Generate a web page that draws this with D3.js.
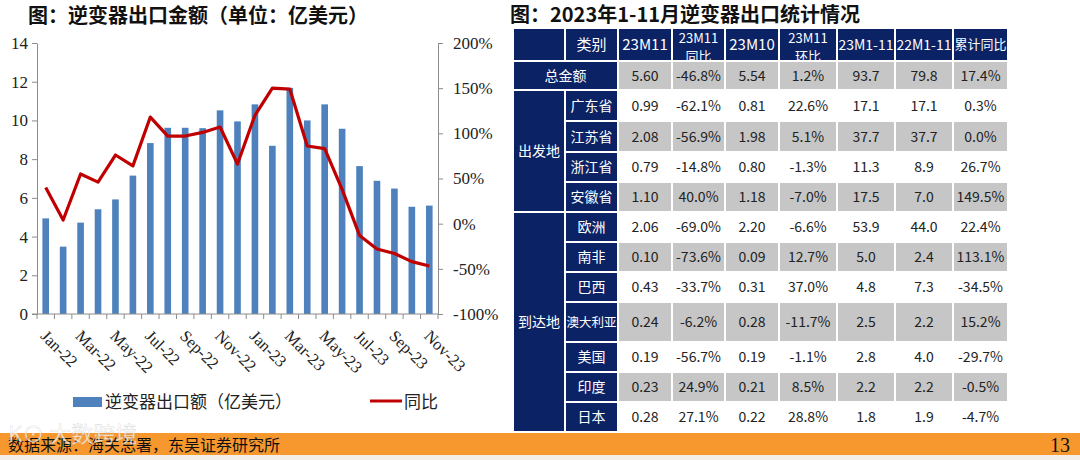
<!DOCTYPE html>
<html><head><meta charset="utf-8">
<script src="https://cdn.jsdelivr.net/npm/d3@7"></script>
<style>
html,body{margin:0;padding:0;background:#fff;}
svg{display:block;}
</style></head>
<body>
<svg id="c" width="1080" height="460"></svg>
<script>
// ---------------- DATA ----------------
const months = ["Jan-22","Feb-22","Mar-22","Apr-22","May-22","Jun-22","Jul-22","Aug-22","Sep-22","Oct-22","Nov-22","Dec-22",
                "Jan-23","Feb-23","Mar-23","Apr-23","May-23","Jun-23","Jul-23","Aug-23","Sep-23","Oct-23","Nov-23"];
const exportValue = [4.94,3.48,4.72,5.41,5.92,7.15,8.83,9.62,9.62,9.60,10.52,9.95,10.83,8.69,11.68,10.0,10.83,9.57,7.64,6.88,6.48,5.54,5.60];
const yoyPct = [40,4,55,46,76,64,118,97,97,101,107,66,120,150,149,86,83,38,-13,-28,-33,-42,-46.8];
const leftTicks = [0,2,4,6,8,10,12,14];
const rightTicks = [-100,-50,0,50,100,150,200];

const tableHeader = ["","类别","23M11","23M11\n同比","23M10","23M11\n环比","23M1-11","22M1-11","累计同比"];
const groupLabels = ["出发地","到达地"];
const rowNames = ["总金额","广东省","江苏省","浙江省","安徽省","欧洲","南非","巴西","澳大利亚","美国","印度","日本"];
const rowGroup = [null,"出发地","出发地","出发地","出发地","到达地","到达地","到达地","到达地","到达地","到达地","到达地"];
const m11 =   ["5.60","0.99","2.08","0.79","1.10","2.06","0.10","0.43","0.24","0.19","0.23","0.28"];
const m11Yoy =["-46.8%","-62.1%","-56.9%","-14.8%","40.0%","-69.0%","-73.6%","-33.7%","-6.2%","-56.7%","24.9%","27.1%"];
const m10 =   ["5.54","0.81","1.98","0.80","1.18","2.20","0.09","0.31","0.28","0.19","0.21","0.22"];
const m11Mom =["1.2%","22.6%","5.1%","-1.3%","-7.0%","-6.6%","12.7%","37.0%","-11.7%","-1.1%","8.5%","28.8%"];
const ytd23 = ["93.7","17.1","37.7","11.3","17.5","53.9","5.0","4.8","2.5","2.8","2.2","1.8"];
const ytd22 = ["79.8","17.1","37.7","8.9","7.0","44.0","2.4","7.3","2.2","4.0","2.2","1.9"];
const ytdYoy =["17.4%","0.3%","0.0%","26.7%","149.5%","22.4%","113.1%","-34.5%","15.2%","-29.7%","-0.5%","-4.7%"];

// ---------------- STYLE / LAYOUT ----------------
const CJK = "'Noto Sans CJK SC','Noto Sans',sans-serif";
const SERIF = "'Liberation Serif','Times New Roman',serif";
const BAR = "#4F81BD", LINE = "#C00000", NAVY = "#0B2265", GRAY = "#C6C6C6", AXIS = "#8C8C8C";

const svg = d3.select("#c");

// ---- left chart ----
const plot = {l:37, r:438, t:43, b:314};
const x = d3.scaleBand().domain(months).range([plot.l, plot.r]).paddingInner(0.62).paddingOuter(0.31);
const yL = d3.scaleLinear().domain([0,14]).range([plot.b, plot.t]);
const yR = d3.scaleLinear().domain([-100,200]).range([plot.b, plot.t]);

svg.append("text").attr("x",28).attr("y",23).attr("font-family",CJK).attr("font-weight","bold")
  .attr("font-size",20).attr("fill","#111").text("图：逆变器出口金额（单位：亿美元）");

svg.append("g").selectAll("rect").data(months).join("rect")
  .attr("x", d=>x(d)).attr("width", x.bandwidth())
  .attr("y", (d,i)=>yL(exportValue[i])).attr("height",(d,i)=>plot.b - yL(exportValue[i]))
  .attr("fill", BAR);

// left axis
const gl = svg.append("g").attr("transform",`translate(${plot.l},0)`)
  .call(d3.axisLeft(yL).tickValues(leftTicks).tickSize(5).tickSizeOuter(0).tickPadding(4));
gl.select(".domain").attr("stroke",AXIS);
gl.selectAll("line").attr("stroke",AXIS);
gl.selectAll("text").attr("font-family",SERIF).attr("font-size",17).attr("fill","#222");

// right axis
const gr = svg.append("g").attr("transform",`translate(${plot.r},0)`)
  .call(d3.axisRight(yR).tickValues(rightTicks).tickFormat(d=>d+"%").tickSize(5).tickSizeOuter(0).tickPadding(10));
gr.select(".domain").attr("stroke",AXIS);
gr.selectAll("line").attr("stroke",AXIS);
gr.selectAll("text").attr("font-family",SERIF).attr("font-size",17).attr("fill","#222");

// bottom axis
const step = x.step();
svg.append("line").attr("x1",plot.l-5).attr("x2",plot.r).attr("y1",plot.b).attr("y2",plot.b).attr("stroke",AXIS);
svg.append("g").selectAll("line").data(d3.range(months.length+1)).join("line")
  .attr("x1", i=>plot.l + i*step).attr("x2", i=>plot.l + i*step)
  .attr("y1", plot.b).attr("y2", plot.b+5).attr("stroke",AXIS);
svg.append("g").selectAll("text").data(months.filter((d,i)=>i%2===0)).join("text")
  .attr("transform", d=>`translate(${x(d)+x.bandwidth()/2-2},${plot.b+19}) rotate(45)`)
  .attr("font-family",SERIF).attr("font-size",16.5).attr("fill","#222")
  .attr("dy","0.35em").text(d=>d);

// line
const line = d3.line().x((d,i)=>x(months[i])+x.bandwidth()/2).y(d=>yR(d));
svg.append("path").datum(yoyPct).attr("d",line).attr("fill","none")
  .attr("stroke",LINE).attr("stroke-width",3.2).attr("stroke-linejoin","round");

// legend
svg.append("rect").attr("x",73).attr("y",397).attr("width",29).attr("height",10).attr("fill",BAR);
svg.append("text").attr("x",105).attr("y",408).attr("font-family",CJK).attr("font-size",17).attr("fill","#222")
  .text("逆变器出口额（亿美元）");
svg.append("line").attr("x1",370).attr("x2",402).attr("y1",401).attr("y2",401).attr("stroke",LINE).attr("stroke-width",3);
svg.append("text").attr("x",404).attr("y",408).attr("font-family",CJK).attr("font-size",17).attr("fill","#222").text("同比");

// ---- table ----
svg.append("text").attr("x",510).attr("y",21.5).attr("font-family",CJK).attr("font-weight","bold")
  .attr("font-size",20).attr("fill","#111").text("图：2023年1-11月逆变器出口统计情况");

const colEdges = [513,565,618,672,725,779,837,895,953,1008];
const rowEdges = [28,61,90,121,152,182,212,242,272,302,342,372,402,432];
const cols = [m11,m11Yoy,m10,m11Mom,ytd23,ytd22,ytdYoy];
const T = svg.append("g");
function cell(c0,c1,r0,r1,fill){
  T.append("rect").attr("x",colEdges[c0]).attr("y",rowEdges[r0])
    .attr("width",colEdges[c1]-colEdges[c0]).attr("height",rowEdges[r1]-rowEdges[r0])
    .attr("fill",fill).attr("stroke","#fff").attr("stroke-width",2);
}
function label(c0,c1,r0,r1,txt,color,size){
  const lines = txt.split("\n");
  const cx=(colEdges[c0]+colEdges[c1])/2, cy=(rowEdges[r0]+rowEdges[r1])/2;
  const maxW = colEdges[c1]-colEdges[c0]-3;
  const multi = lines.length>1;
  const fs = multi ? 13 : size;
  const lh = multi ? 18.5 : 0;
  const y0 = cy - (lines.length-1)/2*lh + (multi?2.8:0);
  const t = T.append("text").attr("text-anchor","middle").attr("font-family",CJK)
      .attr("font-size",fs).attr("fill",color);
  lines.forEach((l,k)=>{
    t.append("tspan").attr("x",cx).attr("y",y0 + k*lh).attr("dy","0.36em").text(l);
  });
  const w = t.node().getBBox().width;
  if (w > maxW) t.attr("font-size", fs*maxW/w);
}
// header
tableHeader.forEach((h,j)=>{ cell(j,j+1,0,1,NAVY); if(h) label(j,j+1,0,1,h,"#fff",15); });
// rows
rowNames.forEach((name,i)=>{
  const r=i+1;
  const fill = i%2===0 ? GRAY : "#fff";
  if(rowGroup[i]===null){ cell(0,2,r,r+1,NAVY); label(0,2,r,r+1,name,"#fff",14); }
  else { cell(1,2,r,r+1,NAVY); label(1,2,r,r+1,name,"#fff",14); }
  cols.forEach((arr,j)=>{ cell(j+2,j+3,r,r+1,fill); label(j+2,j+3,r,r+1,arr[i],"#222",14); });
});
groupLabels.forEach(g=>{
  const idx = rowGroup.map((d,i)=>d===g?i:-1).filter(i=>i>=0);
  const r0 = idx[0]+1, r1 = idx[idx.length-1]+2;
  cell(0,1,r0,r1,NAVY); label(0,1,r0,r1,g,"#fff",14);
});

// ---- footer ----
svg.append("rect").attr("x",0).attr("y",433).attr("width",1080).attr("height",22).attr("fill","#F7982F");
svg.append("rect").attr("x",0).attr("y",455).attr("width",1080).attr("height",5).attr("fill","#F4EEE8");
svg.append("text").attr("x",8).attr("y",451).attr("font-family",CJK).attr("font-size",16).attr("fill","#111")
  .text("数据来源：海关总署，东吴证券研究所");
svg.append("text").attr("x",1060).attr("y",452).attr("text-anchor","middle").attr("font-family",SERIF)
  .attr("font-size",20).attr("fill","#111").text("13");
// watermark
svg.append("text").attr("x",8).attr("y",442).attr("font-family",CJK).attr("font-size",22)
  .attr("fill","#fff").attr("fill-opacity",0.7).attr("stroke","#999").attr("stroke-opacity",0.3).attr("stroke-width",0.6)
  .text("K⊙ 大数跨境");
</script>
</body></html>
